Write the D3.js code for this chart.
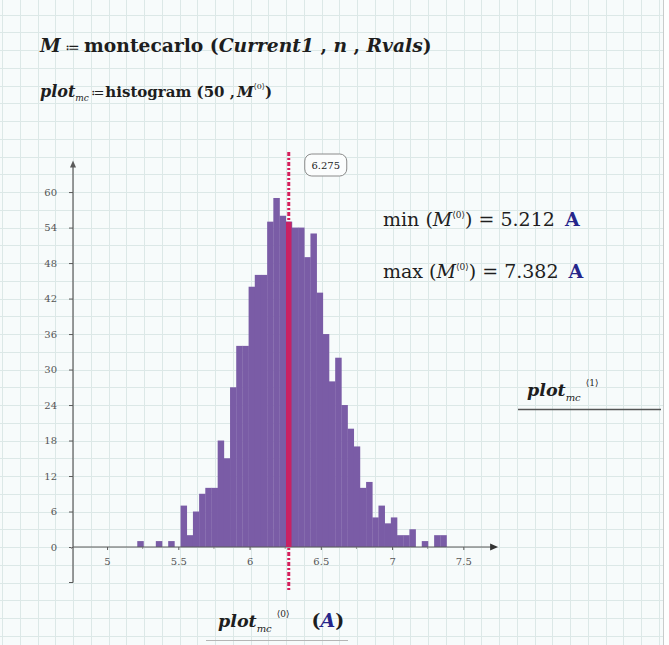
<!DOCTYPE html>
<html>
<head>
<meta charset="utf-8">
<script src="https://cdn.jsdelivr.net/npm/d3@7/dist/d3.min.js"></script>
<style>
  html, body { margin: 0; padding: 0; background: #ffffff; }
  svg { display: block; }
  .math { font-family: "DejaVu Serif", "Liberation Serif", serif; fill: #1e1e1e; }
  .tick text { font-family: "DejaVu Serif", serif; fill: #555; }
</style>
</head>
<body>
<svg id="chart" width="669" height="645"></svg>
<script>
// ---- data ----
const binStart = 5.212;        // min(M<0>)
const binEnd = 7.382;          // max(M<0>)
const counts = [1,0,0,1,0,1,0,7,2,6,
                9,10,10,18,15,27,34,34,44,46,
                46,55,59,56,55,54,54,49,53,43,
                36,28,32,24,20,17,10,11,5,7,
                4,5,2,2,3,0,1,0,2,2];
const meanValue = 6.275;
const yTickValues = [0,6,12,18,24,30,36,42,48,54,60];
const xTickValues = [5,5.5,6,6.5,7,7.5];
const xMinorTicks = [4.75,5.25,5.75,6.25,6.75,7.25];

const W = 669, H = 645;
const svg = d3.select("#chart");

// worksheet background + grid
svg.append("rect").attr("x",0).attr("y",0).attr("width",663).attr("height",H).attr("fill","#f7fbfb");
const gs = 17.75;
const grid = svg.append("g").attr("stroke","#dce8e7").attr("stroke-width",1);
for (let gx = 73 - gs*4; gx < 663; gx += gs) {
  if (gx < 0) continue;
  grid.append("line").attr("x1",Math.round(gx)+0.5).attr("x2",Math.round(gx)+0.5).attr("y1",0).attr("y2",H);
}
for (let gy = 547 - gs*30; gy < H; gy += gs) {
  if (gy < 0) continue;
  grid.append("line").attr("y1",Math.round(gy)+0.5).attr("y2",Math.round(gy)+0.5).attr("x1",0).attr("x2",663);
}
svg.append("line").attr("x1",663.5).attr("x2",663.5).attr("y1",0).attr("y2",H).attr("stroke","#c9cccc");

// scales
const x = d3.scaleLinear().domain([4.761, 7.73]).range([73, 496.1]);
const y = d3.scaleLinear().domain([-6, 65]).range([582.5, 162.5]);

const binW = (binEnd - binStart) / counts.length;
const bins = counts.map((c, i) => ({x0: binStart + i*binW, x1: binStart + (i+1)*binW, c}));

// bars
svg.append("g").selectAll("rect").data(bins.filter(b => b.c > 0)).join("rect")
  .attr("x", d => x(d.x0))
  .attr("width", d => x(d.x1) - x(d.x0) + 0.3)
  .attr("y", d => y(d.c))
  .attr("height", d => y(0) - y(d.c))
  .attr("fill", "#7a5ca6");

// axes
const axisColor = "#5a5a5a";
const yAxis = d3.axisLeft(y).tickValues(yTickValues).tickSize(4).tickPadding(12).tickFormat(d3.format("d"));
const gy = svg.append("g").attr("transform", `translate(${x.range()[0]},0)`).call(yAxis);
gy.select(".domain").remove();
gy.selectAll(".tick line").attr("stroke", axisColor);
gy.selectAll(".tick text").attr("font-size", 10);

const xAxis = d3.axisBottom(x).tickValues(xTickValues).tickSize(3).tickPadding(8).tickFormat(d => d3.format("")(d));
const gx = svg.append("g").attr("transform", `translate(0,${y(0)})`).call(xAxis);
gx.select(".domain").remove();
gx.selectAll(".tick line").attr("stroke", axisColor);
gx.selectAll(".tick text").attr("font-size", 10);
svg.append("g").selectAll("line").data(xMinorTicks).join("line")
  .attr("x1", d => x(d)).attr("x2", d => x(d)).attr("y1", y(0)).attr("y2", y(0)+2)
  .attr("stroke", "#999");
svg.append("line").attr("x1", x.range()[0]-4).attr("x2", x.range()[0]).attr("y1", y(-6)).attr("y2", y(-6)).attr("stroke", axisColor);

svg.append("line").attr("x1", x.range()[0]).attr("x2", x.range()[0])
  .attr("y1", y(-6)).attr("y2", y(64.5)).attr("stroke", axisColor).attr("stroke-width", 1.2);
svg.append("path").attr("d", `M${x.range()[0]},${y(65)-2} l-3,7 l6,0 z`).attr("fill", axisColor);
svg.append("line").attr("x1", x.range()[0]).attr("x2", x.range()[1]-3)
  .attr("y1", y(0)).attr("y2", y(0)).attr("stroke", axisColor).attr("stroke-width", 1.2);
svg.append("path").attr("d", `M${x.range()[1]+2},${y(0)} l-8,-3.5 l0,7 z`).attr("fill", "#333");

// mean marker
const meanBin = bins.find(b => meanValue >= b.x0 && meanValue < b.x1);
const mx = x(meanValue);
svg.append("line").attr("x1", mx).attr("x2", mx).attr("y1", 152).attr("y2", 590)
  .attr("stroke", "#d41f5c").attr("stroke-width", 3).attr("stroke-dasharray", "4,2,2,2");
svg.append("line").attr("x1", mx).attr("x2", mx).attr("y1", y(meanBin.c)).attr("y2", y(0))
  .attr("stroke", "#c92163").attr("stroke-width", 5.5);
svg.append("rect").attr("x", mx+16).attr("y", 154).attr("width", 42).attr("height", 22).attr("rx", 7)
  .attr("fill", "#fbfdfd").attr("stroke", "#8a8a8a");
svg.append("text").attr("x", mx+37).attr("y", 169).attr("text-anchor", "middle")
  .attr("class", "math").attr("font-size", 10).attr("fill", "#444").text(d3.format(".3f")(meanValue));

// ---- math region texts ----
function mathText(xp, yp, size, parts) {
  const t = svg.append("text").attr("class", "math").attr("x", xp).attr("y", yp).attr("font-size", size);
  parts.forEach(p => {
    const s = t.append("tspan").text(p.t);
    if (p.b) s.attr("font-weight", "bold");
    if (p.i) s.attr("font-style", "italic");
    if (p.c) s.attr("fill", p.c);
    if (p.fs) s.attr("font-size", p.fs);
    if (p.dy) s.attr("dy", p.dy);
    if (p.dx) s.attr("dx", p.dx);
  });
  return t;
}
const blue = "#25258a";
mathText(40, 52, 18.7, [
  {t:"M", b:1, i:1}, {t:" ≔ ", fs:14}, {t:"montecarlo", b:1}, {t:" (", b:1},
  {t:"Current1", b:1, i:1}, {t:" , ", b:1}, {t:"n", b:1, i:1}, {t:" , ", b:1}, {t:"Rvals", b:1, i:1}, {t:")", b:1}
]);
mathText(40, 97, 16, [
  {t:"plot", b:1, i:1}, {t:"mc", i:1, fs:9, dy:4}, {t:"≔", fs:13, dy:-4, dx:2}, {t:"histogram", b:1, dx:1, fs:15}, {t:" (50 ,", b:1, fs:15},
  {t:"M", b:1, i:1, dx:2, fs:15}, {t:"⟨0⟩", fs:8, dy:-8}, {t:")", b:1, dy:8, fs:15}
]);
mathText(383, 226, 19, [
  {t:"min"}, {t:" ("}, {t:"M", i:1}, {t:"⟨0⟩", fs:9, dy:-8}, {t:") = 5.212 ", dy:8}, {t:"A", b:1, c:blue, dx:4}
]);
mathText(383, 278, 19, [
  {t:"max"}, {t:" ("}, {t:"M", i:1}, {t:"⟨0⟩", fs:9, dy:-8}, {t:") = 7.382 ", dy:8}, {t:"A", b:1, c:blue, dx:4}
]);
mathText(527, 396, 17.5, [
  {t:"plot", b:1, i:1}, {t:"mc", i:1, fs:10, dy:5}, {t:"⟨1⟩", fs:9, dy:-15, dx:5}
]);
svg.append("line").attr("x1", 518).attr("x2", 661).attr("y1", 409.5).attr("y2", 409.5).attr("stroke", "#555").attr("stroke-width", 1.3);
mathText(218, 627, 17.5, [
  {t:"plot", b:1, i:1}, {t:"mc", i:1, fs:10, dy:5}, {t:"⟨0⟩", fs:9, dy:-15, dx:5}, {t:"(", b:1, dy:10, dx:22, fs:19}, {t:"A", b:1, i:1, c:blue, fs:19}, {t:")", b:1, fs:19}
]);
svg.append("line").attr("x1", 206).attr("x2", 348).attr("y1", 640.5).attr("y2", 640.5).attr("stroke", "#b5b5b5");
</script>
</body>
</html>
